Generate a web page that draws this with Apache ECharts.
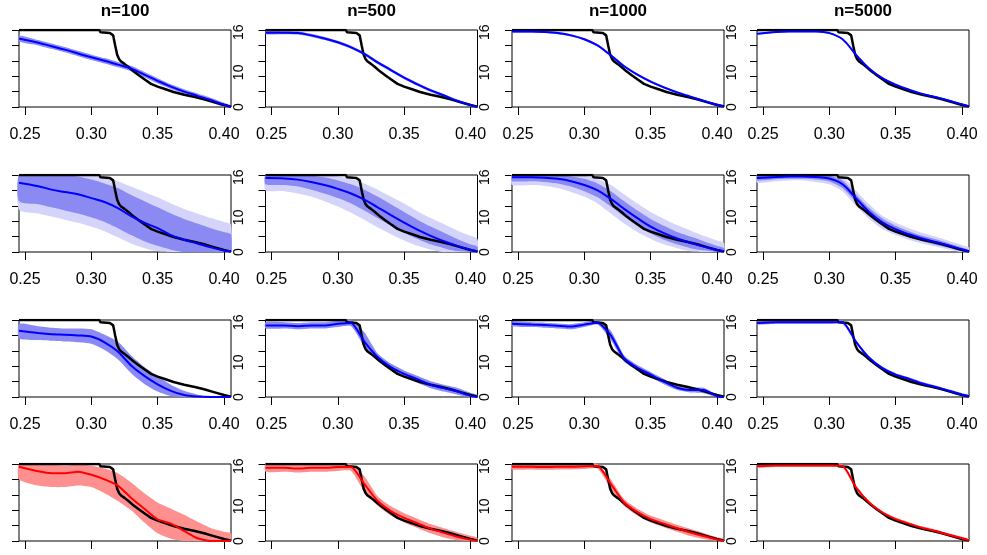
<!DOCTYPE html>
<html>
<head>
<meta charset="utf-8">
<script src="https://cdn.jsdelivr.net/npm/echarts@6/dist/echarts.min.js"></script>
<style>
  html, body { margin: 0; background: #fff; }
  #main { width: 987px; height: 555px; }
</style>
</head>
<body>
<div id="main"></div>
<script>
// common x grid of the estimated curves
var xs = [0.2455, 0.26, 0.27, 0.28, 0.29, 0.30, 0.31, 0.32, 0.33, 0.34, 0.35, 0.36, 0.37, 0.38, 0.39, 0.40, 0.4053];

// true curve (black step line), same in every panel
var blackX = [0.2455, 0.26, 0.28, 0.30, 0.306, 0.307, 0.314, 0.3165, 0.318, 0.3195, 0.321, 0.3225, 0.325, 0.328, 0.332, 0.336, 0.340, 0.345, 0.350, 0.356, 0.362, 0.370, 0.378, 0.385, 0.393, 0.400, 0.4053];
var blackY = [1.0, 1.0, 1.0, 1.0, 1.0, 0.97, 0.96, 0.93, 0.80, 0.68, 0.62, 0.59, 0.56, 0.52, 0.46, 0.41, 0.36, 0.30, 0.265, 0.23, 0.195, 0.16, 0.13, 0.10, 0.06, 0.025, 0.005];

var titles = ["n=100", "n=500", "n=1000", "n=5000"];
var xTicks = [0.25, 0.30, 0.35, 0.40];
var sideTicks = [0, 0.45, 0.97];
var sideLabels = ["0", "10", "16"];

// row 1
var m11 = [0.89, 0.835, 0.79, 0.745, 0.695, 0.645, 0.60, 0.55, 0.50, 0.42, 0.34, 0.265, 0.20, 0.145, 0.09, 0.03, 0.0];
var lo11 = [0.85, 0.80, 0.755, 0.71, 0.66, 0.61, 0.565, 0.515, 0.465, 0.385, 0.305, 0.235, 0.17, 0.115, 0.06, 0.005, 0.0];
var hi11 = [0.93, 0.87, 0.825, 0.78, 0.73, 0.68, 0.635, 0.585, 0.535, 0.455, 0.375, 0.295, 0.23, 0.175, 0.12, 0.055, 0.02];
var m12 = [0.965, 0.965, 0.96, 0.93, 0.89, 0.84, 0.775, 0.69, 0.58, 0.48, 0.38, 0.295, 0.215, 0.15, 0.08, 0.025, 0.0];
var lo12 = [0.945, 0.945, 0.94, 0.91, 0.87, 0.82, 0.755, 0.67, 0.56, 0.46, 0.36, 0.275, 0.195, 0.13, 0.06, 0.01, 0.0];
var hi12 = [0.985, 0.985, 0.98, 0.95, 0.91, 0.86, 0.795, 0.71, 0.60, 0.50, 0.40, 0.315, 0.235, 0.17, 0.10, 0.04, 0.01];
var m13 = [0.98, 0.98, 0.975, 0.96, 0.93, 0.88, 0.80, 0.67, 0.53, 0.42, 0.33, 0.255, 0.19, 0.135, 0.08, 0.03, 0.01];
var lo13 = [0.965, 0.965, 0.96, 0.945, 0.915, 0.865, 0.785, 0.655, 0.515, 0.405, 0.315, 0.24, 0.175, 0.12, 0.065, 0.015, 0.0];
var hi13 = [0.995, 0.995, 0.99, 0.975, 0.945, 0.895, 0.815, 0.685, 0.545, 0.435, 0.345, 0.27, 0.205, 0.15, 0.095, 0.045, 0.025];
var m14 = [0.95, 0.975, 0.98, 0.98, 0.98, 0.96, 0.88, 0.68, 0.50, 0.375, 0.29, 0.225, 0.17, 0.13, 0.085, 0.035, 0.01];
var lo14 = [0.94, 0.965, 0.97, 0.97, 0.97, 0.95, 0.87, 0.67, 0.49, 0.365, 0.28, 0.215, 0.16, 0.12, 0.075, 0.025, 0.0];
var hi14 = [0.96, 0.985, 0.99, 0.99, 0.99, 0.97, 0.89, 0.69, 0.51, 0.385, 0.30, 0.235, 0.18, 0.14, 0.095, 0.045, 0.02];

// row 2 (inner dense band + faint outer band)
var m21 = [0.90, 0.855, 0.81, 0.78, 0.75, 0.70, 0.65, 0.57, 0.465, 0.38, 0.31, 0.22, 0.16, 0.11, 0.06, 0.02, 0.01];
var lo21 = [0.66, 0.62, 0.58, 0.54, 0.50, 0.45, 0.39, 0.31, 0.22, 0.14, 0.08, 0.03, 0.0, 0.0, 0.0, 0.0, 0.0];
var hi21 = [1.0, 1.0, 1.0, 1.0, 0.98, 0.94, 0.89, 0.83, 0.74, 0.66, 0.58, 0.50, 0.43, 0.37, 0.31, 0.26, 0.23];
var olo21 = [0.55, 0.50, 0.46, 0.42, 0.38, 0.33, 0.27, 0.19, 0.11, 0.05, 0.01, 0.0, 0.0, 0.0, 0.0, 0.0, 0.0];
var ohi21 = [1.0, 1.0, 1.0, 1.0, 1.0, 1.0, 0.97, 0.92, 0.85, 0.78, 0.71, 0.63, 0.56, 0.50, 0.44, 0.39, 0.36];
var m22 = [0.96, 0.955, 0.94, 0.91, 0.87, 0.82, 0.76, 0.68, 0.58, 0.48, 0.38, 0.29, 0.21, 0.14, 0.08, 0.03, 0.01];
var lo22 = [0.88, 0.87, 0.85, 0.81, 0.76, 0.70, 0.63, 0.54, 0.44, 0.34, 0.25, 0.17, 0.10, 0.05, 0.01, 0.0, 0.0];
var hi22 = [1.0, 1.0, 1.0, 0.99, 0.97, 0.93, 0.88, 0.81, 0.72, 0.62, 0.52, 0.42, 0.33, 0.25, 0.17, 0.10, 0.07];
var olo22 = [0.80, 0.79, 0.76, 0.72, 0.66, 0.59, 0.51, 0.42, 0.32, 0.23, 0.15, 0.08, 0.03, 0.0, 0.0, 0.0, 0.0];
var ohi22 = [1.0, 1.0, 1.0, 1.0, 1.0, 0.98, 0.95, 0.89, 0.81, 0.72, 0.63, 0.53, 0.44, 0.36, 0.28, 0.21, 0.17];
var m23 = [0.97, 0.97, 0.965, 0.95, 0.92, 0.87, 0.80, 0.69, 0.56, 0.44, 0.33, 0.245, 0.175, 0.12, 0.07, 0.025, 0.01];
var lo23 = [0.92, 0.92, 0.91, 0.89, 0.85, 0.79, 0.71, 0.59, 0.46, 0.34, 0.24, 0.16, 0.10, 0.05, 0.02, 0.0, 0.0];
var hi23 = [1.0, 1.0, 1.0, 1.0, 0.98, 0.95, 0.89, 0.79, 0.66, 0.54, 0.43, 0.34, 0.26, 0.20, 0.14, 0.08, 0.05];
var olo23 = [0.87, 0.87, 0.86, 0.83, 0.78, 0.72, 0.63, 0.50, 0.37, 0.26, 0.17, 0.10, 0.05, 0.01, 0.0, 0.0, 0.0];
var ohi23 = [1.0, 1.0, 1.0, 1.0, 1.0, 0.99, 0.95, 0.87, 0.75, 0.63, 0.52, 0.43, 0.35, 0.28, 0.21, 0.15, 0.12];
var m24 = [0.96, 0.975, 0.98, 0.98, 0.975, 0.955, 0.88, 0.70, 0.52, 0.385, 0.295, 0.23, 0.175, 0.13, 0.085, 0.035, 0.01];
var lo24 = [0.93, 0.945, 0.95, 0.95, 0.94, 0.915, 0.83, 0.65, 0.47, 0.335, 0.25, 0.19, 0.14, 0.095, 0.055, 0.01, 0.0];
var hi24 = [0.99, 1.0, 1.0, 1.0, 1.0, 0.99, 0.93, 0.75, 0.57, 0.435, 0.34, 0.27, 0.21, 0.165, 0.115, 0.06, 0.03];
var olo24 = [0.90, 0.92, 0.93, 0.93, 0.91, 0.88, 0.79, 0.60, 0.43, 0.30, 0.22, 0.16, 0.11, 0.07, 0.03, 0.0, 0.0];
var ohi24 = [1.0, 1.0, 1.0, 1.0, 1.0, 1.0, 0.97, 0.80, 0.62, 0.47, 0.38, 0.31, 0.25, 0.20, 0.145, 0.09, 0.06];

// row 3
var m31 = [0.86, 0.83, 0.815, 0.81, 0.80, 0.785, 0.71, 0.59, 0.41, 0.275, 0.165, 0.08, 0.025, 0.005, 0.0, 0.0, 0.0];
var lo31 = [0.76, 0.74, 0.73, 0.72, 0.71, 0.69, 0.61, 0.49, 0.31, 0.17, 0.07, 0.01, 0.0, 0.0, 0.0, 0.0, 0.0];
var hi31 = [0.95, 0.92, 0.90, 0.89, 0.89, 0.88, 0.81, 0.72, 0.54, 0.39, 0.27, 0.16, 0.08, 0.03, 0.0, 0.0, 0.0];
var m32 = [0.93, 0.93, 0.92, 0.93, 0.93, 0.95, 0.96, 0.72, 0.52, 0.39, 0.30, 0.23, 0.16, 0.115, 0.075, 0.015, 0.0];
var lo32 = [0.89, 0.89, 0.88, 0.89, 0.89, 0.91, 0.92, 0.66, 0.475, 0.345, 0.255, 0.185, 0.115, 0.07, 0.03, 0.0, 0.0];
var hi32 = [0.97, 0.97, 0.96, 0.97, 0.97, 0.99, 1.0, 0.84, 0.565, 0.435, 0.345, 0.275, 0.205, 0.16, 0.12, 0.055, 0.03];
var m33 = [0.95, 0.94, 0.935, 0.925, 0.915, 0.94, 0.965, 0.80, 0.50, 0.38, 0.29, 0.20, 0.12, 0.09, 0.09, 0.01, 0.0];
var lo33 = [0.92, 0.91, 0.90, 0.89, 0.88, 0.91, 0.94, 0.74, 0.46, 0.345, 0.255, 0.165, 0.09, 0.06, 0.05, 0.0, 0.0];
var hi33 = [0.98, 0.97, 0.965, 0.955, 0.945, 0.97, 0.99, 0.86, 0.54, 0.415, 0.325, 0.235, 0.15, 0.12, 0.12, 0.03, 0.01];
var m34 = [0.96, 0.97, 0.97, 0.97, 0.97, 0.97, 0.97, 0.72, 0.51, 0.375, 0.29, 0.235, 0.175, 0.13, 0.08, 0.03, 0.01];
var lo34 = [0.94, 0.95, 0.95, 0.95, 0.95, 0.95, 0.95, 0.70, 0.49, 0.355, 0.27, 0.215, 0.155, 0.11, 0.06, 0.01, 0.0];
var hi34 = [0.98, 0.99, 0.99, 0.99, 0.99, 0.99, 0.99, 0.74, 0.53, 0.395, 0.31, 0.255, 0.195, 0.15, 0.10, 0.05, 0.03];

// row 4 (red)
var m41 = [0.965, 0.905, 0.88, 0.88, 0.90, 0.86, 0.80, 0.72, 0.56, 0.42, 0.28, 0.225, 0.13, 0.035, 0.0, 0.0, 0.0];
var lo41 = [0.80, 0.72, 0.70, 0.70, 0.72, 0.70, 0.62, 0.52, 0.40, 0.24, 0.10, 0.03, 0.0, 0.0, 0.0, 0.0, 0.0];
var hi41 = [1.0, 1.0, 0.99, 0.98, 0.99, 0.98, 0.94, 0.88, 0.76, 0.62, 0.50, 0.42, 0.34, 0.25, 0.17, 0.12, 0.10];
var m42 = [0.95, 0.95, 0.94, 0.95, 0.95, 0.96, 0.96, 0.74, 0.52, 0.39, 0.30, 0.23, 0.16, 0.105, 0.055, 0.015, 0.0];
var lo42 = [0.90, 0.90, 0.89, 0.90, 0.90, 0.91, 0.91, 0.64, 0.46, 0.33, 0.24, 0.17, 0.10, 0.045, 0.01, 0.0, 0.0];
var hi42 = [1.0, 1.0, 0.99, 1.0, 1.0, 1.0, 1.0, 0.84, 0.58, 0.45, 0.36, 0.29, 0.22, 0.165, 0.115, 0.07, 0.04];
var m43 = [0.965, 0.965, 0.96, 0.965, 0.965, 0.97, 0.975, 0.74, 0.50, 0.375, 0.285, 0.225, 0.165, 0.11, 0.065, 0.02, 0.0];
var lo43 = [0.93, 0.93, 0.925, 0.93, 0.93, 0.935, 0.94, 0.68, 0.455, 0.33, 0.24, 0.18, 0.12, 0.065, 0.025, 0.0, 0.0];
var hi43 = [1.0, 1.0, 0.995, 1.0, 1.0, 1.0, 1.0, 0.80, 0.545, 0.42, 0.33, 0.27, 0.21, 0.155, 0.105, 0.05, 0.03];
var m44 = [0.97, 0.98, 0.98, 0.98, 0.98, 0.98, 0.975, 0.70, 0.50, 0.37, 0.285, 0.225, 0.17, 0.13, 0.08, 0.035, 0.01];
var lo44 = [0.95, 0.96, 0.96, 0.96, 0.96, 0.96, 0.955, 0.68, 0.48, 0.35, 0.265, 0.205, 0.15, 0.11, 0.06, 0.015, 0.0];
var hi44 = [0.99, 1.0, 1.0, 1.0, 1.0, 1.0, 0.995, 0.72, 0.52, 0.39, 0.305, 0.245, 0.19, 0.15, 0.10, 0.055, 0.03];

var panels = [
  [m11, lo11, hi11], [m12, lo12, hi12], [m13, lo13, hi13], [m14, lo14, hi14],
  [m21, lo21, hi21, olo21, ohi21], [m22, lo22, hi22, olo22, ohi22], [m23, lo23, hi23, olo23, ohi23], [m24, lo24, hi24, olo24, ohi24],
  [m31, lo31, hi31], [m32, lo32, hi32], [m33, lo33, hi33], [m34, lo34, hi34],
  [m41, lo41, hi41], [m42, lo42, hi42], [m43, lo43, hi43], [m44, lo44, hi44]
];

var font = "'Liberation Sans', Arial, sans-serif";
var colLeft = [19, 265.5, 512, 757];
var rowTop = [30, 175, 320, 464];
var boxW = 212, boxH = 77;

var grids = [], xAxes = [], yAxes = [], series = [], graphics = [];

function bandSeries(i, yIdx, lo, hi, color, z) {
  return {
    type: "custom", xAxisIndex: i, yAxisIndex: yIdx, silent: true, z: z,
    data: xs.map(function (x, k) { return [x, lo[k], hi[k]]; }),
    encode: { x: 0, y: [1, 2] },
    renderItem: function (params, api) {
      if (params.dataIndex !== 0) return null;
      var pts = [];
      for (var k = 0; k < xs.length; k++) pts.push(api.coord([xs[k], hi[k]]));
      for (var k2 = xs.length - 1; k2 >= 0; k2--) pts.push(api.coord([xs[k2], lo[k2]]));
      return { type: "polygon", shape: { points: pts, smooth: 0.2 }, style: { fill: color } };
    }
  };
}

panels.forEach(function (p, i) {
  var r = Math.floor(i / 4), c = i % 4;
  var red = r === 3;
  var lineColor = red ? "#ff0000" : "#0000ff";
  var bandColor = red ? "#ff9090" : (r === 0 ? "#8c8cf6" : "#8a8af2");
  grids.push({
    left: colLeft[c], top: rowTop[r], width: boxW, height: boxH,
    outerBoundsMode: "none", containLabel: false,
    show: true, borderColor: "#000", borderWidth: 1, backgroundColor: "transparent"
  });
  xAxes.push({
    type: "value", gridIndex: i, min: 0.2455, max: 0.4053, offset: 3,
    axisLine: { show: false },
    axisTick: { show: true, length: 8, customValues: xTicks, lineStyle: { color: "#000", width: 1 } },
    axisLabel: {
      customValues: xTicks, margin: 17, fontSize: 16, color: "#000", fontFamily: font,
      formatter: function (v) { return v.toFixed(2); }
    },
    splitLine: { show: false }
  });
  var yLeft = yAxes.length;
  yAxes.push({
    type: "value", gridIndex: i, min: 0, max: 1, interval: 0.2,
    axisLine: { show: false },
    axisTick: { show: true, length: 7, lineStyle: { color: "#000", width: 1 } },
    axisLabel: { show: false },
    splitLine: { show: false }
  });
  if (c < 3) {
    yAxes.push({
      type: "value", gridIndex: i, min: 0, max: 1, position: "right",
      axisLine: { show: false }, axisTick: { show: false }, splitLine: { show: false },
      axisLabel: {
        customValues: sideTicks, rotate: 90, margin: 1, fontSize: 14, color: "#000", fontFamily: font,
        formatter: function (v) { return sideLabels[sideTicks.indexOf(v)]; }
      }
    });
  }
  var mean = p[0];
  if (p[3]) series.push(bandSeries(i, yLeft, p[3], p[4], "#d4d4fa", 1));
  series.push(bandSeries(i, yLeft, p[1], p[2], bandColor, 2));
  series.push({
    type: "line", xAxisIndex: i, yAxisIndex: yLeft, symbol: "none", z: 3, silent: true,
    data: blackX.map(function (x, k) { return [x, blackY[k]]; }),
    lineStyle: { color: "#000", width: 2.5 }
  });
  series.push({
    type: "line", xAxisIndex: i, yAxisIndex: yLeft, symbol: "none", z: 4, silent: true,
    smooth: r < 2 ? 0.4 : 0.2,
    data: xs.map(function (x, k) { return [x, mean[k]]; }),
    lineStyle: { color: lineColor, width: 2 }
  });
});

titles.forEach(function (t, c) {
  graphics.push({
    type: "text", x: colLeft[c] + boxW / 2, y: 11,
    style: { text: t, textAlign: "center", textVerticalAlign: "middle", font: "bold 17px " + font, fill: "#000" }
  });
});

var chart = echarts.init(document.getElementById("main"), null, { renderer: "canvas" });
chart.setOption({
  animation: false,
  backgroundColor: "#fff",
  grid: grids,
  xAxis: xAxes,
  yAxis: yAxes,
  series: series,
  graphic: graphics
});
</script>
</body>
</html>
